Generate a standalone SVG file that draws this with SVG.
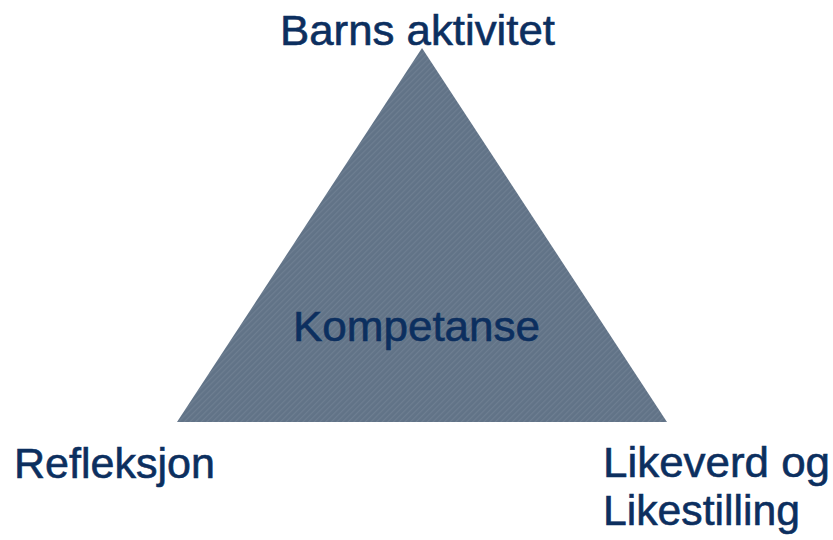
<svg xmlns="http://www.w3.org/2000/svg" width="833" height="540" viewBox="0 0 833 540">
<style>
.lbl{font-family:"Liberation Sans",Arial,sans-serif;font-size:43px;fill:#0c2f5f;stroke:#0c2f5f;stroke-width:0.6}
</style>
<defs>
<pattern id="hatch" width="4" height="4" patternUnits="userSpaceOnUse" patternTransform="rotate(-45)">
<rect width="4" height="4" fill="#617387"/>
<rect width="4" height="1.2" fill="#6d7e91"/>
</pattern>
</defs>
<rect width="833" height="540" fill="#ffffff"/>
<g id="triangle">
<polygon points="422,48 177,422 667,422" fill="url(#hatch)"/>
<text class="lbl" x="293" y="341" textLength="247" lengthAdjust="spacingAndGlyphs">Kompetanse</text>
</g>
<g id="top"><text class="lbl" x="280" y="45" textLength="275" lengthAdjust="spacingAndGlyphs">Barns aktivitet</text></g>
<g id="left"><text class="lbl" x="14" y="478" textLength="201" lengthAdjust="spacingAndGlyphs">Refleksjon</text></g>
<g id="right"><text class="lbl" x="603" y="477" textLength="227" lengthAdjust="spacingAndGlyphs">Likeverd og</text><text class="lbl" x="603" y="525" textLength="197" lengthAdjust="spacingAndGlyphs">Likestilling</text></g>
</svg>
